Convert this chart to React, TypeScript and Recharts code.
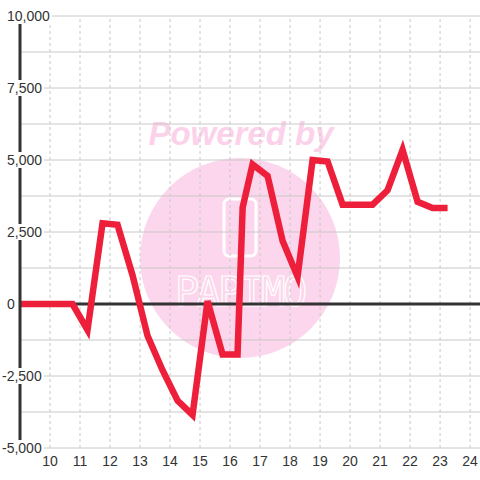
import React from "react";
import { LineChart, Line, XAxis, YAxis, ReferenceLine } from "recharts";

// hours (every half hour, quarter past / quarter to)
const hours = [
  8.75, 9.25, 9.75, 10.25, 10.75, 11.25, 11.75, 12.25, 12.75, 13.25, 13.75,
  14.25, 14.75, 15.25, 15.75, 16.25, 16.42, 16.75, 17.25, 17.75, 18.25, 18.75,
  19.25, 19.75, 20.25, 20.75, 21.25, 21.75, 22.25, 22.75, 23.25,
];
const values = [
  0, 0, 0, 0, 0, -900, 2800, 2750, 1000, -1100, -2300, -3350, -3850, 100,
  -1750, -1750, 3350, 4850, 4450, 2200, 950, 5000, 4950, 3450, 3450, 3450,
  3950, 5350, 3550, 3330, 3330,
];
const xTicks = [10, 11, 12, 13, 14, 15, 16, 17, 18, 19, 20, 21, 22, 23, 24];
const yTicks = [-5000, -2500, 0, 2500, 5000, 7500, 10000];
const gridValues = [
  -5000, -3750, -2500, -1250, 1250, 2500, 3750, 5000, 6250, 7500, 8750, 10000,
];

const data = hours.map((t, i) => ({ t, v: values[i] }));

const fmt = (v: number) => v.toLocaleString("en-US");

function charWidth(c: string) {
  if (c === ",") return 3.9;
  if (c === "-") return 4.7;
  return 7.8;
}

function YTick(props: any) {
  const { y, payload } = props;
  const label = fmt(payload.value);
  const x0 = payload.value < 0 ? 2 : 7;
  const w = label.split("").reduce((s, c) => s + charWidth(c), 0);
  return (
    <g>
      <rect x={x0 - 1} y={y - 8} width={w + 3} height={16} fill="#fff" />
      <text x={x0} y={y} dy={5} fontSize={14} fill="#333" textAnchor="start">
        {label}
      </text>
    </g>
  );
}

function Watermark() {
  return (
    <svg width={480} height={480} style={{ position: "absolute", left: 0, top: 0 }}>
      <circle cx={240} cy={258} r={100} fill="#fcd6ec" />
      <text
        x={241}
        y={145}
        textAnchor="middle"
        fontSize={33}
        fontWeight="bold"
        fontStyle="italic"
        fontFamily="Liberation Sans, Arial, sans-serif"
        fill="#fcd2ea"
      >
        Powered by
      </text>
      <rect x={224} y={199} width={32} height={57} rx={5} fill="none" stroke="#fff" strokeWidth={3} />
      <text
        x={241}
        y={306}
        textAnchor="middle"
        fontSize={40}
        fontFamily="DejaVu Sans Mono, monospace"
        fill="none"
        stroke="#fff"
        strokeWidth={1.2}
        textLength={132}
      >
        PAPIMO
      </text>
    </svg>
  );
}

export default function App() {
  return (
    <div
      style={{
        position: "absolute",
        left: 0,
        top: 0,
        width: 480,
        height: 480,
        background: "#fff",
        fontFamily: "Liberation Sans, Arial, sans-serif",
      }}
    >
      <Watermark />
      <div style={{ position: "absolute", left: 0, top: 0 }}>
        <LineChart width={480} height={480} data={data} margin={{ top: 16, right: 0, bottom: 0, left: 0 }}>
          {xTicks.map((x) => (
            <ReferenceLine key={"x" + x} x={x} stroke="#c8c8c8" strokeDasharray="3 3" />
          ))}
          {gridValues.map((g) => (
            <ReferenceLine key={g} y={g} stroke="#c8c8c8" strokeWidth={1} />
          ))}
          <ReferenceLine y={0} stroke="#333" strokeWidth={3} />
          <Line
            dataKey="v"
            stroke="#ee1f3a"
            strokeWidth={6.5}
            dot={false}
            activeDot={false}
            isAnimationActive={false}
          />
          <XAxis
            dataKey="t"
            type="number"
            domain={[9, 24.33]}
            allowDataOverflow
            ticks={xTicks}
            height={32}
            tickLine={false}
            axisLine={false}
            tick={{ fill: "#333", fontSize: 14 }}
          />
          <YAxis
            type="number"
            domain={[-5000, 10000]}
            ticks={yTicks}
            width={20}
            tickLine={false}
            axisLine={{ stroke: "#333", strokeWidth: 3 }}
            tick={<YTick />}
          />
        </LineChart>
      </div>
    </div>
  );
}
